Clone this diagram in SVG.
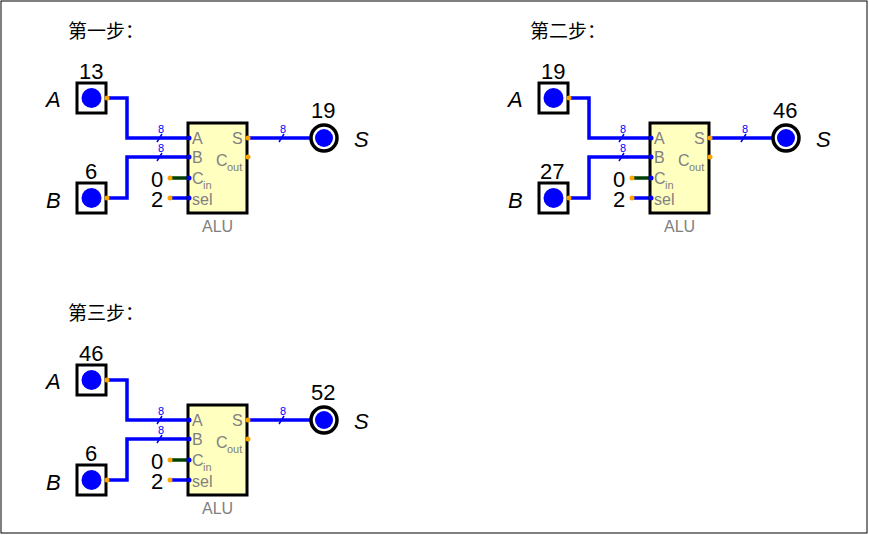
<svg xmlns="http://www.w3.org/2000/svg" width="869" height="535" viewBox="0 0 869 535">
<defs>
<style>
.t{font-family:"Noto Sans CJK SC","Noto Sans",sans-serif;font-size:19px;fill:#000}
.n{font-family:"Liberation Sans",Arial,sans-serif;font-size:22px;fill:#000}
.i{font-family:"Liberation Sans",Arial,sans-serif;font-size:22px;font-style:italic;fill:#000}
.p{font-family:"Liberation Sans",Arial,sans-serif;font-size:16px;fill:#808080}
.s{font-family:"Liberation Sans",Arial,sans-serif;font-size:11px;fill:#808080}
.b{font-family:"Liberation Sans",Arial,sans-serif;font-size:11px;fill:#0000ff}
.w{stroke:#0000ff;stroke-width:3.5;fill:none}
.o{fill:#ffa500}
</style>
<g id="unit">
<g id="conn">
<path class="w" d="M107,98 H127 V138 H188"/>
<path class="w" d="M107,198 H127 V157 H188"/>
<path class="w" d="M170,198 H188"/>
<path d="M170,178 H188" stroke="#004000" stroke-width="3.5"/>
<path class="w" d="M248,138 H311"/>
<path d="M157,142 L162,134 M157,161 L162,153 M279,142 L284,134" stroke="#0000ff" stroke-width="1.5"/>
<text class="b" x="158" y="133">8</text>
<text class="b" x="158" y="152">8</text>
<text class="b" x="280" y="133">8</text>
</g>
<g id="inA"><rect x="77" y="83" width="29" height="30" fill="#fff" stroke="#000" stroke-width="3"/><circle cx="91.5" cy="98" r="10" fill="#0000ff"/><circle class="o" cx="107" cy="98" r="2.5"/><text class="i" x="46" y="107">A</text></g>
<g id="inB"><rect x="77" y="183" width="29" height="30" fill="#fff" stroke="#000" stroke-width="3"/><circle cx="91.5" cy="198" r="10" fill="#0000ff"/><circle class="o" cx="107" cy="198" r="2.5"/><text class="i" x="46" y="208">B</text></g>
<g id="alu">
<rect x="188" y="123" width="59" height="90" fill="#ffffc0" stroke="#000" stroke-width="3"/>
<circle cx="189" cy="138" r="2.5" fill="#0000ff"/><circle cx="189" cy="157" r="2.5" fill="#0000ff"/><circle cx="189" cy="178" r="2.5" fill="#0000ff"/><circle cx="189" cy="198" r="2.5" fill="#0000ff"/>
<circle class="o" cx="248" cy="138" r="2.5"/><circle class="o" cx="248" cy="157" r="2.5"/>
<circle class="o" cx="170" cy="178" r="2.5"/><circle class="o" cx="170" cy="198" r="2.5"/>
<text class="p" x="192" y="144">A</text><text class="p" x="192" y="163">B</text>
<text class="p" x="192" y="184">C</text><text class="s" x="203" y="189">in</text>
<text class="p" x="192" y="205">sel</text>
<text class="p" x="232" y="144">S</text>
<text class="p" x="216" y="166">C</text><text class="s" x="227" y="171">out</text>
<text class="p" x="202" y="232">ALU</text>
<text class="n" x="151" y="187">0</text><text class="n" x="151" y="207">2</text>
</g>
<g id="outS"><circle cx="324" cy="138" r="13" fill="#fff" stroke="#000" stroke-width="3.5"/><circle cx="324" cy="138" r="9" fill="#0000ff"/><text class="i" x="354" y="147">S</text></g>
</g>
</defs>
<rect x="1" y="1" width="866" height="532" fill="#fff" stroke="#000" stroke-width="1"/>
<g id="step1">
<text class="t" x="68" y="38">第一步：</text>
<use href="#unit"/>
<text class="n" x="79" y="79">13</text><text class="n" x="85" y="179">6</text><text class="n" x="311" y="118">19</text>
</g>
<g id="step2" transform="translate(462,0)">
<text class="t" x="68" y="38">第二步：</text>
<use href="#unit"/>
<text class="n" x="79" y="79">19</text><text class="n" x="78" y="179">27</text><text class="n" x="311" y="118">46</text>
</g>
<g id="step3" transform="translate(0,282)">
<text class="t" x="68" y="38">第三步：</text>
<use href="#unit"/>
<text class="n" x="79" y="79">46</text><text class="n" x="85" y="179">6</text><text class="n" x="311" y="118">52</text>
</g>
</svg>
